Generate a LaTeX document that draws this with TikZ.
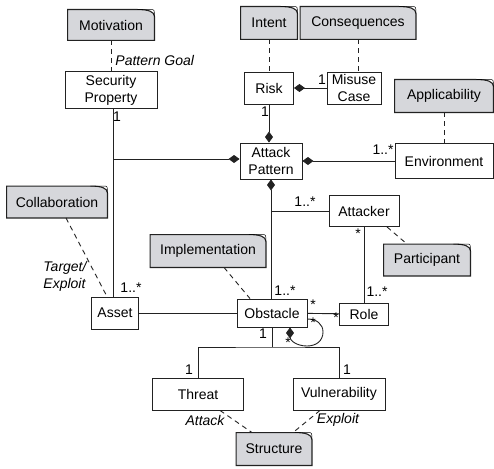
\documentclass[tikz,border=0pt]{standalone}
\usepackage{fontspec}
\setmainfont{Liberation Sans}
\usetikzlibrary{arrows.meta,backgrounds}
\definecolor{notegray}{RGB}{214,215,219}
\definecolor{linegray}{RGB}{34,34,34}

\begin{document}
\begin{tikzpicture}[x=1pt, y=-1pt, font=\fontsize{14}{17}\selectfont,
    line width=0.9pt, draw=linegray,
    cls/.style={draw=linegray, fill=white, inner sep=0pt, align=center},
    note/.style={inner sep=0pt, align=center},
    mult/.style={inner sep=0pt},
    rolename/.style={inner sep=0pt, align=left, font=\fontsize{14}{17}\selectfont\itshape},
    trace/.style={dash pattern=on 5pt off 4pt},
    comp/.style={-{Diamond[length=11pt,width=8pt]}}]
          \useasboundingbox (0,0) rectangle (494,468);

          % notes (grey, folded corner)
          \node[note, minimum width=86pt, minimum height=30pt] (motiv) at (111,25) {Motivation};
          \node[note, minimum width=56pt, minimum height=32pt] (intent) at (269,23) {Intent};
          \node[note, minimum width=115pt, minimum height=32pt] (conseq) at (358,23) {Consequences};
          \node[note, minimum width=98pt, minimum height=32pt] (applic) at (444,96) {Applicability};
          \node[note, minimum width=100pt, minimum height=31pt] (collab) at (57,202) {Collaboration};
          \node[note, minimum width=115pt, minimum height=32pt] (implem) at (208,251) {Implementation};
          \node[note, minimum width=86pt, minimum height=31pt] (partic) at (427,260) {Participant};
          \node[note, minimum width=75pt, minimum height=32pt] (struct) at (274,449) {Structure};

          % classes
          \node[cls, minimum width=92pt, minimum height=37pt] (sp) at (111,90) {Security\\Property};
          \node[cls, minimum width=49pt, minimum height=32pt] (risk) at (269,88) {Risk};
          \node[cls, minimum width=54pt, minimum height=32pt] (misuse) at (354,88) {Misuse\\Case};
          \node[cls, minimum width=62pt, minimum height=36pt] (attack) at (271,161) {Attack\\Pattern};
          \node[cls, minimum width=98pt, minimum height=35pt] (env) at (444,161) {Environment};
          \node[cls, minimum width=70pt, minimum height=31pt] (attacker) at (364,211) {Attacker};
          \node[cls, minimum width=70pt, minimum height=28pt] (obst) at (272,313) {Obstacle};
          \node[cls, minimum width=49pt, minimum height=22pt] (role) at (364,314) {Role};
          \node[cls, minimum width=47pt, minimum height=32pt] (asset) at (115,313) {Asset};
          \node[cls, minimum width=91pt, minimum height=32pt] (threat) at (198,394) {Threat};
          \node[cls, minimum width=92pt, minimum height=32pt] (vuln) at (339,394) {Vulnerability};

          \begin{scope}[on background layer]
            \foreach \n in {motiv,intent,conseq,applic,collab,implem,partic,struct}{
              \filldraw[fill=notegray, draw=linegray, line width=1.1pt]
                (\n.south west) -- (\n.north west) -- ([xshift=-17pt]\n.north east)
                .. controls ([xshift=-6pt]\n.north east) and ([yshift=-2pt]\n.north east)
                .. ([yshift=-7pt]\n.north east) -- (\n.south east) -- cycle;
              \draw[line width=0.5pt] ([xshift=-17pt]\n.north east) -- ([xshift=-4pt]\n.north east)
                .. controls (\n.north east) .. ([yshift=-7pt]\n.north east);
            }
          \end{scope}

          % junction points
          \coordinate (spjoin) at (113,159);
          \coordinate (atkjoin) at (271,211);
          \coordinate (obsjoin) at (272,347);

          % dashed note links
          \draw[trace] (motiv) -- (sp);
          \draw[trace] (intent) -- (risk);
          \draw[trace] (conseq) -- (conseq |- misuse.north);
          \draw[trace] (applic) -- (env);
          \draw[trace] ([xshift=9pt]collab.south) -- ([xshift=-8pt]asset.north);
          \draw[trace] ([xshift=16pt]implem.south) -- ([xshift=-22pt]obst.north);
          \draw[trace] ([xshift=23pt]attacker.south) -- ([xshift=-20pt]partic.north);
          \draw[trace] ([xshift=22pt]threat.south) -- ([xshift=-22pt]struct.north);
          \draw[trace] ([xshift=-19pt]vuln.south) -- ([xshift=19pt]struct.north);

          % compositions
          \draw[comp] (misuse) -- (risk);
          \draw[comp] (risk) -- (risk.south |- attack.north);
          \draw[comp] (env) -- (attack);
          \draw (sp.south -| spjoin) -- (asset.north -| spjoin);
          \draw[comp] (spjoin) -- (spjoin -| attack.west);
          \draw[comp] (attack.south |- obst.north) -- (attack.south);
          \draw (atkjoin) -- (atkjoin -| attacker.west);
          \draw[comp] ([yshift=-6pt]obst.east) .. controls ([xshift=9pt,yshift=-6pt]obst.east) and (323,324) .. (323,332)
            .. controls (323,341) and (316,346) .. (307,346)
            .. controls (296,346) and (290,340) .. ([xshift=18pt]obst.south);

          % associations
          \draw (attacker) -- (role);
          \draw (obst) -- (role);
          \draw (asset) -- (obst);
          \draw (obst.south) -- (obsjoin);
          \draw (threat.north) |- (obsjoin) -| (vuln.north);

          % multiplicities
          \node[mult] (m1) at (117,117) {1};
          \node[mult] (m2) at (322,80) {1};
          \node[mult] (m3) at (265,112) {1};
          \node[mult] (m4) at (383,150) {1..*};
          \node[mult] (m5) at (305,202) {1..*};
          \node[mult] (m6) at (358,234) {*};
          \node[mult] (m7) at (377,292) {1..*};
          \node[mult] (m8) at (285,291) {1..*};
          \node[mult] (m9) at (313,305) {*};
          \node[mult] (m10) at (336,318) {*};
          \node[mult] (m11) at (313,323) {*};
          \node[mult] (m12) at (288,343) {*};
          \node[mult] (m13) at (263,334) {1};
          \node[mult] (m14) at (131,288) {1..*};
          \node[mult] (m15) at (189,370) {1};
          \node[mult] (m16) at (347,370) {1};

          % role names
          \node[rolename, anchor=west] (goal) at (115,60) {Pattern Goal};
          \node[rolename, anchor=west] (target) at (43,276) {Target/\\Exploit};
          \node[rolename] (attacklbl) at (205,420) {Attack};
          \node[rolename] (exploitlbl) at (338,420) {Exploit};
        \end{tikzpicture}
\end{document}
